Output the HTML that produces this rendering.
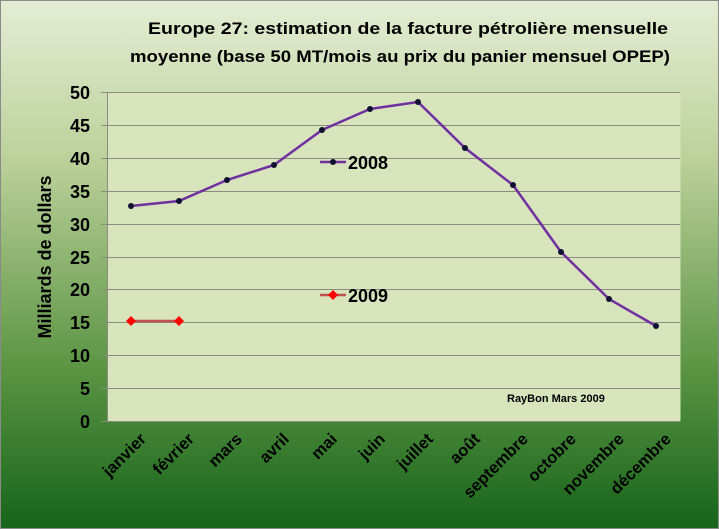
<!DOCTYPE html>
<html><head><meta charset="utf-8"><style>
html,body{margin:0;padding:0;width:719px;height:529px;overflow:hidden}
</style></head><body>
<svg width="719" height="529" xmlns="http://www.w3.org/2000/svg" font-family="Liberation Sans, sans-serif">
<defs>
<linearGradient id="bg" x1="0" y1="0" x2="0" y2="1">
<stop offset="0" stop-color="#e4edd4"/>
<stop offset="0.3" stop-color="#bcd19a"/>
<stop offset="0.7" stop-color="#5a9443"/>
<stop offset="1" stop-color="#16641a"/>
</linearGradient>
</defs>
<rect x="0.5" y="0.5" width="718" height="528" fill="url(#bg)" stroke="#8a8a8a"/>
<text x="408" y="34" font-size="17" font-weight="bold" text-anchor="middle" textLength="520" lengthAdjust="spacingAndGlyphs">Europe 27: estimation  de la facture pétrolière mensuelle</text>
<text x="400" y="62" font-size="17" font-weight="bold" text-anchor="middle" textLength="540" lengthAdjust="spacingAndGlyphs">moyenne (base 50 MT/mois au prix du panier mensuel OPEP)</text>
<rect x="107.5" y="92" width="573" height="329" fill="#d8e4bc"/>
<g stroke="#8c8c80" stroke-width="1">
<line x1="101" x2="680" y1="92.5" y2="92.5"/><line x1="101" x2="680" y1="125.5" y2="125.5"/>
<line x1="101" x2="680" y1="158.5" y2="158.5"/><line x1="101" x2="680" y1="191.5" y2="191.5"/>
<line x1="101" x2="680" y1="224.5" y2="224.5"/><line x1="101" x2="680" y1="257.5" y2="257.5"/>
<line x1="101" x2="680" y1="289.5" y2="289.5"/><line x1="101" x2="680" y1="322.5" y2="322.5"/>
<line x1="101" x2="680" y1="355.5" y2="355.5"/><line x1="101" x2="680" y1="388.5" y2="388.5"/>
<line x1="101" x2="680" y1="421.5" y2="421.5"/>
<line x1="107.5" x2="107.5" y1="92" y2="421"/>
</g>
<g font-size="18" font-weight="bold" text-anchor="end">
<text x="90" y="99">50</text><text x="90" y="132">45</text><text x="90" y="165">40</text>
<text x="90" y="198">35</text><text x="90" y="231">30</text><text x="90" y="264">25</text>
<text x="90" y="296">20</text><text x="90" y="329">15</text><text x="90" y="362">10</text>
<text x="90" y="395">5</text><text x="90" y="428">0</text>
</g>
<text transform="translate(51,257) rotate(-90)" font-size="18" font-weight="bold" text-anchor="middle">Milliards de dollars</text>
<g font-size="16.5" font-weight="bold" text-anchor="end">
<text transform="translate(147,440) rotate(-45)">janvier</text>
<text transform="translate(195,440) rotate(-45)">février</text>
<text transform="translate(243,440) rotate(-45)">mars</text>
<text transform="translate(290,440) rotate(-45)">avril</text>
<text transform="translate(338,440) rotate(-45)">mai</text>
<text transform="translate(386,440) rotate(-45)">juin</text>
<text transform="translate(434,440) rotate(-45)">juillet</text>
<text transform="translate(481,440) rotate(-45)">août</text>
<text transform="translate(529,440) rotate(-45)">septembre</text>
<text transform="translate(577,440) rotate(-45)">octobre</text>
<text transform="translate(625,440) rotate(-45)">novembre</text>
<text transform="translate(672,440) rotate(-45)">décembre</text>
</g>
<polyline fill="none" stroke="#7030a0" stroke-width="2.5" points="131,206 179,201 227,180 274,165 322,130 370,109 418,102 465,148 513,185 561,252 609,299 656,326"/>
<g fill="#101030">
<circle cx="131" cy="206" r="3"/><circle cx="179" cy="201" r="3"/><circle cx="227" cy="180" r="3"/>
<circle cx="274" cy="165" r="3"/><circle cx="322" cy="130" r="3"/><circle cx="370" cy="109" r="3"/>
<circle cx="418" cy="102" r="3"/><circle cx="465" cy="148" r="3"/><circle cx="513" cy="185" r="3"/>
<circle cx="561" cy="252" r="3"/><circle cx="609" cy="299" r="3"/><circle cx="656" cy="326" r="3"/>
</g>
<line x1="131" y1="321" x2="179" y2="321" stroke="#c0504d" stroke-width="2.5"/>
<polygon points="131,316 136,321 131,326 126,321" fill="#ff0000"/>
<polygon points="179,316 184,321 179,326 174,321" fill="#ff0000"/>
<line x1="320" y1="162" x2="346" y2="162" stroke="#7030a0" stroke-width="2.5"/>
<circle cx="333" cy="162" r="3" fill="#101030"/>
<text x="348" y="169" font-size="18" font-weight="bold">2008</text>
<line x1="320" y1="295" x2="346" y2="295" stroke="#c0504d" stroke-width="2.5"/>
<polygon points="333,290 338,295 333,300 328,295" fill="#ff0000"/>
<text x="348" y="302" font-size="18" font-weight="bold">2009</text>
<text x="507" y="402" font-size="11" font-weight="bold">RayBon Mars 2009</text>
</svg>
</body></html>
